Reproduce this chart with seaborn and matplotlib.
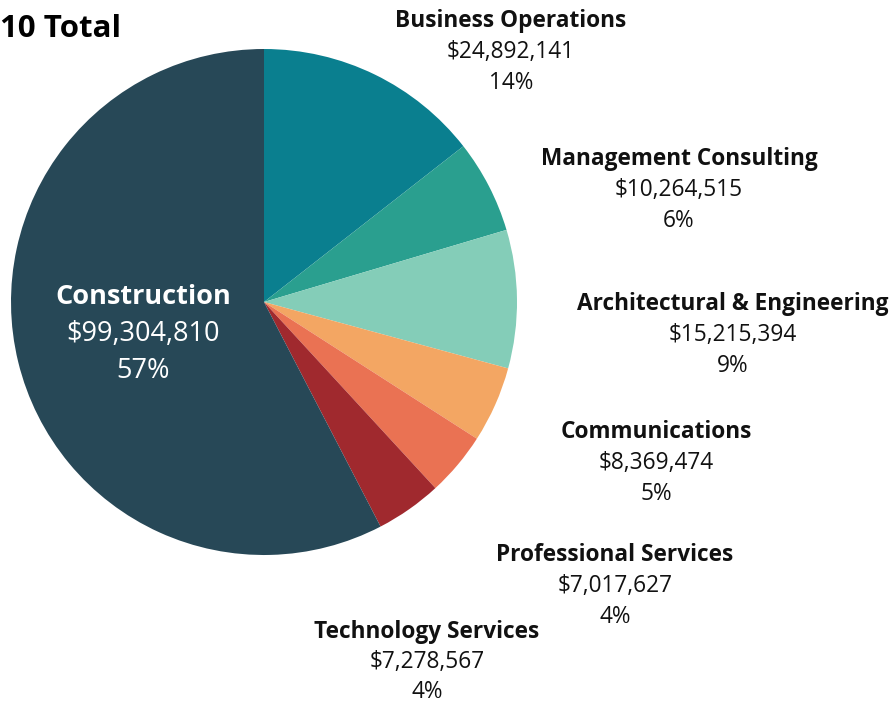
import matplotlib
matplotlib.use("Agg")
import matplotlib.pyplot as plt
import seaborn as sns

categories = ["Business Operations", "Management Consulting", "Architectural & Engineering",
              "Communications", "Professional Services", "Technology Services", "Construction"]
values = [24892141, 10264515, 15215394, 8369474, 7017627, 7278567, 99304810]
pct_labels = ["14%", "6%", "9%", "5%", "4%", "4%", "57%"]
colors = ["#0A7F8F", "#2A9F8F", "#84CDB8", "#F3A663", "#EA7253", "#A0292E", "#274857"]
title = "10 Total"

sns.set_theme(style="white")
plt.rcParams['font.family'] = ['Open Sans', 'DejaVu Sans']

W, H = 895, 706
fig = plt.figure(figsize=(W / 100, H / 100), dpi=100)
cx, cy, r = 264, 302, 253
ax = fig.add_axes([(cx - r) / W, (H - cy - r) / H, 2 * r / W, 2 * r / H])
ax.pie(values, colors=colors, startangle=90, counterclock=False, radius=1,
       wedgeprops=dict(linewidth=0))
ax.set_xlim(-1, 1)
ax.set_ylim(-1, 1)
ax.set_aspect('equal')
ax.axis('off')

# label positions in pixels (center x, y of first line)
label_pos = [(511, 21), (679, 159), (733, 304), (656, 432), (615, 555), (427, 632), (143, 297)]
gap = 31
for i, cat in enumerate(categories):
    x, y = label_pos[i]
    big = cat == "Construction"
    col = "white" if big else "#111111"
    fs_b = 19.5 if big else 16.3
    fs = 19.5 if big else 16.3
    g = 37 if big else (30 if cat == "Technology Services" else gap)
    fig.text(x / W, 1 - y / H, cat, ha='center', va='center', fontsize=fs_b,
             fontweight='bold', color=col)
    fig.text(x / W, 1 - (y + g) / H, f"${values[i]:,}", ha='center', va='center',
             fontsize=fs, color=col)
    fig.text(x / W, 1 - (y + 2 * g) / H, pct_labels[i], ha='center', va='center',
             fontsize=fs, color=col)

fig.text(0 / W, 1 - 29 / H, title, ha='left', va='center', fontsize=22.5,
         fontweight='bold', color='#000000')

fig.savefig("out.png", dpi=100)
